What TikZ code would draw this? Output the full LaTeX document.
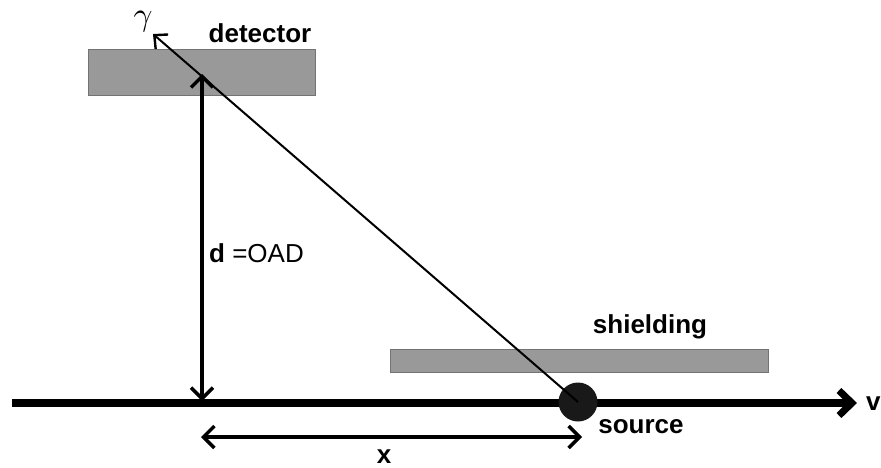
\documentclass[tikz,border=0pt]{standalone}
\usepackage{fontspec}
\setmainfont{Liberation Sans}
\usetikzlibrary{arrows.meta}
\begin{document}
\begin{tikzpicture}[x=1pt,y=-1pt,
  slab/.style={draw=black!55,fill=black!40,line width=1pt},
  lbl/.style={font=\fontsize{26}{30}\selectfont\bfseries,inner sep=0pt},
  dbl/.style={{Straight Barb[length=11pt,width=22pt,line width=3.5pt]}-{Straight Barb[length=11pt,width=22pt,line width=3.5pt]}}]
\useasboundingbox (0,0) rectangle (881,468);
\node[slab,minimum width=227pt,minimum height=46pt,inner sep=0pt] (det) at (201.5,73) {};
\node[slab,minimum width=378pt,minimum height=23pt,inner sep=0pt] (sh) at (579,360.5) {};
\coordinate (left) at (12,403);
\coordinate (right) at (857,403);
\draw[line width=7.5pt,-{Straight Barb[length=13pt,width=25pt,line width=7pt]}] (left) -- (right);
\node[lbl,anchor=west] (v) at (866,404) {v};
\node[circle,fill=black!90,minimum size=39pt,inner sep=0pt] (src) at (578,402) {};
\coordinate (gtip) at (153,34);
\draw[line width=2pt,-{Straight Barb[length=10pt,width=19pt,line width=2.4pt]}] (src.center) -- (gtip);
\node[inner sep=0pt] (gam) at (143,22) {\scalebox{3.3}{$\gamma$}};
\node[lbl] (detl) at (260,33) {detector};
\node[lbl] (shl) at (650,327) {shielding};
\node[lbl] (srcl) at (641,427) {source};
\coordinate (dtop) at (202,74);
\coordinate (dbot) at (202,401);
\draw[line width=4pt,dbl] (dbot) -- (dtop);
\node[inner sep=0pt,anchor=west,font=\fontsize{26}{30}\selectfont] (dl) at (209,253) {\textbf{d} =OAD};
\coordinate (xl) at (201,437);
\coordinate (xr) at (582,437);
\draw[line width=3.5pt,dbl] (xl) -- (xr);
\node[lbl] (xlab) at (384,457) {x};
\end{tikzpicture}
\end{document}
